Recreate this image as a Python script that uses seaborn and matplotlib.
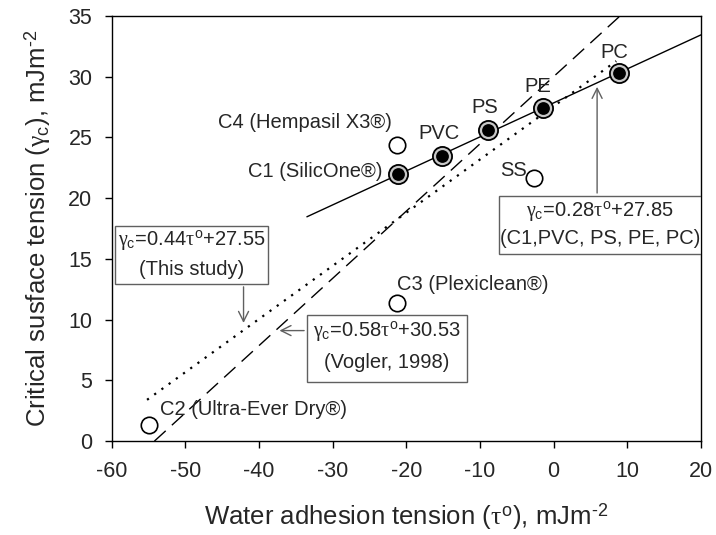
import numpy as np
import pandas as pd
import seaborn as sns
import matplotlib.pyplot as plt
from matplotlib.patches import Rectangle

# data
fit_names = ["C1", "PVC", "PS", "PE", "PC"]
fit_tau = [-21.1, -15.1, -8.9, -1.4, 8.9]
fit_gamma = [22.0, 23.45, 25.65, 27.4, 30.3]

other_names = ["C4", "SS", "C3", "C2"]
other_tau = [-21.2, -2.7, -21.2, -55.0]
other_gamma = [24.4, 21.7, 11.4, 1.3]

# regression lines as drawn: (x0, y0), (x1, y1)
line_fit = [(-33.5, 18.47), (20.0, 33.45)]     # 0.28x+27.85, C1,PVC,PS,PE,PC
line_study = [(-55.2, 3.4), (8.5, 31.29)]      # 0.44x+27.55, this study
line_vogler = [(-54.2, 0.0), (9.0, 35.0)]      # 0.58x+30.53, Vogler 1998

sns.set_style("white")
plt.rcParams['font.family'] = ['Liberation Sans', 'DejaVu Sans']
plt.rcParams['mathtext.fontset'] = 'custom'
plt.rcParams['mathtext.rm'] = 'Liberation Sans'
plt.rcParams['mathtext.it'] = 'Liberation Serif'
plt.rcParams['axes.unicode_minus'] = False

fig = plt.figure(figsize=(7.16, 5.35), dpi=100)
ax = fig.add_axes([0.156, 0.1755, 0.823, 0.7945])

def line_df(p):
    return pd.DataFrame({"x": [p[0][0], p[1][0]], "y": [p[0][1], p[1][1]]})

sns.lineplot(data=line_df(line_fit), x="x", y="y", color="black", lw=1, ax=ax)
sns.lineplot(data=line_df(line_study), x="x", y="y", color="black", lw=1.6,
             linestyle=(0, (1, 3)), ax=ax)
sns.lineplot(data=line_df(line_vogler), x="x", y="y", color="black", lw=1,
             linestyle=(0, (11, 6)), ax=ax)

sns.scatterplot(x=other_tau, y=other_gamma, s=140, color="white",
                edgecolor="black", linewidth=1.2, ax=ax, zorder=5)
sns.scatterplot(x=fit_tau, y=fit_gamma, s=190, color="#c8c8c8",
                edgecolor="black", linewidth=1.3, ax=ax, zorder=5)
sns.scatterplot(x=fit_tau, y=fit_gamma, s=85, color="black",
                edgecolor="black", linewidth=0, ax=ax, zorder=6)

fs = 14.5
labels = [
    ("C4 (Hempasil X3®)", -22.0, 26.2, "right"),
    ("C1 (SilicOne®)", -23.2, 22.2, "right"),
    ("PVC", -15.5, 25.3, "center"),
    ("PS", -9.3, 27.5, "center"),
    ("PE", -2.2, 29.2, "center"),
    ("PC", 8.3, 32.0, "center"),
    ("SS", -5.5, 22.3, "center"),
    ("C3 (Plexiclean®)", -21.2, 12.9, "left"),
    ("C2 (Ultra-Ever Dry®)", -53.5, 2.6, "left"),
]
for txt, x, y, ha in labels:
    ax.text(x, y, txt, ha=ha, va="center", fontsize=fs)

# equation boxes
boxes = [
    ((-7.4, 15.4), 27.4, 4.8, 6.3, 18.9, 16.7,
     r"$\gamma_{\rm c}$=0.28$\tau^{\rm o}$+27.85", "(C1,PVC, PS, PE, PC)"),
    ((-59.55, 12.93), 20.8, 4.8, -49.1, 16.5, 14.1,
     r"$\gamma_{\rm c}$=0.44$\tau^{\rm o}$+27.55", "(This study)"),
    ((-33.5, 4.85), 21.8, 5.5, -22.6, 8.96, 6.5,
     r"$\gamma_{\rm c}$=0.58$\tau^{\rm o}$+30.53", "(Vogler, 1998)"),
]
for (xy, w, h, cx, y1, y2, t1, t2) in boxes:
    ax.add_patch(Rectangle(xy, w, h, fc="white", ec="#606060", lw=1, zorder=3))
    ax.text(cx, y1, t1, ha="center", va="center", fontsize=fs, zorder=4)
    ax.text(cx, y2, t2, ha="center", va="center", fontsize=fs, zorder=4)

arrow = dict(arrowstyle="->", color="#606060", lw=1, mutation_scale=18)
ax.annotate("", xy=(5.9, 29.4), xytext=(5.9, 20.2), arrowprops=arrow)
ax.annotate("", xy=(-42.1, 9.5), xytext=(-42.1, 12.93), arrowprops=arrow)
ax.annotate("", xy=(-37.6, 9.1), xytext=(-33.5, 9.1), arrowprops=arrow)

ax.set_xlim(-60, 20)
ax.set_ylim(0, 35)
ax.set_xticks(range(-60, 21, 10))
ax.set_yticks(range(0, 36, 5))
ax.tick_params(axis="both", direction="out", length=5, width=1, labelsize=15.5,
               bottom=True, left=True, color="black")
ax.tick_params(axis="x", pad=9)
ax.tick_params(axis="y", pad=9)
for sp in ax.spines.values():
    sp.set_visible(True)
    sp.set_color("black")
    sp.set_linewidth(1)

ax.set_xlabel(r"Water adhesion tension ($\tau^{\rm o}$), mJm$^{\text{-2}}$", fontsize=18.5, labelpad=14)
ax.set_ylabel(r"Critical susface tension ($\gamma_{\rm c}$), mJm$^{\text{-2}}$", fontsize=18.5, labelpad=11)

fig.savefig("out.png", dpi=100)
